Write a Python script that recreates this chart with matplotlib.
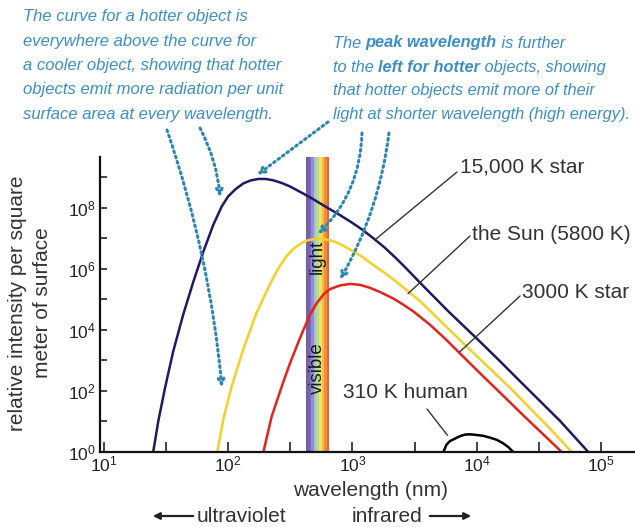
import numpy as np
import matplotlib
matplotlib.use("Agg")
import matplotlib.pyplot as plt

# wavelength (nm) and relative intensity
wl_15000 = [24.9, 27.4, 31.0, 36.1, 43.4, 52.4, 63.0, 75.9, 88.7, 100, 115, 132, 151, 174,
            200, 229, 269, 316, 403, 501, 621, 776, 957, 1189, 1472, 1820, 2275, 2818,
            3499, 5888, 10023, 14791, 22336, 32359, 46881, 79250]
i_15000 = [1, 10.5, 126, 2.0e3, 3.16e4, 3.8e5, 3.63e6, 2.82e7, 1.12e8, 2.4e8, 4.17e8,
           6.31e8, 7.94e8, 8.91e8, 8.91e8, 8.13e8, 6.61e8, 5.01e8, 2.95e8, 1.78e8, 1.05e8,
           6.17e7, 3.63e7, 2.0e7, 1.02e7, 5.0e6, 2.14e6, 8.9e5, 3.55e5, 4.17e4, 5.25e3,
           1.12e3, 209, 46.8, 10.5, 1]

wl_sun = [81.7, 91.4, 107, 132, 169, 200, 231, 261, 295, 339, 389, 447, 513, 589, 676,
          794, 1016, 1230, 1472, 1820, 2275, 2818, 3499, 5248, 7816, 12589, 19724,
          26915, 36644, 58345]
i_sun = [1, 12.0, 148, 2.29e3, 3.63e4, 1.58e5, 5.25e5, 1.26e6, 2.63e6, 4.79e6, 7.08e6,
         8.91e6, 9.77e6, 9.55e6, 8.51e6, 6.61e6, 3.8e6, 2.34e6, 1.35e6, 7.41e5, 3.72e5,
         1.82e5, 8.91e4, 1.78e4, 3.63e3, 575, 100, 26.9, 7.59, 1]

wl_3000 = [192, 224, 278, 316, 363, 403, 457, 516, 589, 661, 794, 957, 1148, 1387, 1698,
           2133, 2570, 3090, 4217, 5623, 7345, 10965, 16406, 22387, 30479, 48417]
i_3000 = [1, 14.8, 200, 851, 3.55e3, 1.0e4, 3.16e4, 7.59e4, 1.51e5, 2.19e5, 2.88e5,
          3.24e5, 3.02e5, 2.4e5, 1.7e5, 1.07e5, 6.76e4, 4.07e4, 1.48e4, 5.01e3, 1.7e3,
          339, 69.2, 20.0, 6.03, 1]

wl_human = [5395, 5741, 6109, 7345, 8072, 8710, 9397, 11324, 12823, 14521, 16406, 17989, 19724]
i_human = [1, 1.78, 2.29, 3.31, 3.72, 3.8, 3.72, 3.39, 2.95, 2.51, 1.91, 1.45, 1]

visible_band = (423, 652)
band_colors = ['#7460ad', '#7b68b5', '#9a8ad0', '#9cc4e2', '#b4de8c',
               '#f0e35a', '#f6bd4a', '#f08c3e', '#e66636']

x_ticks = [10, 100, 1000, 1e4, 1e5]
x_minor = [31.6, 316, 3162, 31623]
y_ticks = [1, 10, 1e2, 1e3, 1e4, 1e5, 1e6, 1e7, 1e8, 1e9]

plt.rcParams['font.family'] = ['Liberation Sans', 'DejaVu Sans']
plt.rcParams['mathtext.default'] = 'regular'

W, H = 635, 527
def fx(px):
    return px / W
def fy(py):
    return 1 - py / H

fig = plt.figure(figsize=(6.35, 5.27), dpi=100)
ax = fig.add_axes([fx(100), 75 / H, 535 / W, 295 / H])

# visible light band
edges = np.logspace(np.log10(visible_band[0]), np.log10(visible_band[1]), len(band_colors) + 1)
for c, a, b in zip(band_colors, edges[:-1], edges[1:]):
    ax.axvspan(a, b, color=c, lw=0, zorder=1)
band_mid = np.sqrt(visible_band[0] * visible_band[1])
ax.text(band_mid, 10**6.4, 'light', rotation=90, ha='center', va='center',
        fontsize=13.5, color='#1a1a1a', zorder=2)
ax.text(band_mid, 10**2.75, 'visible', rotation=90, ha='center', va='center',
        fontsize=13.5, color='#1a1a1a', zorder=2)

ax.plot(wl_15000, i_15000, color='#1e1a66', lw=1.8, zorder=3)
ax.plot(wl_sun, i_sun, color='#f7cf26', lw=1.8, zorder=3)
ax.plot(wl_3000, i_3000, color='#e3231c', lw=1.8, zorder=3)
ax.plot(wl_human, i_human, color='black', lw=1.8, zorder=3)

ax.set_xscale('log')
ax.set_yscale('log')
ax.set_xlim(10**0.968, 10**5.275)
ax.set_ylim(1, 10**9.67)

ax.set_xticks(x_ticks)
ax.set_xticklabels([r'$10^{%d}$' % round(np.log10(v)) for v in x_ticks])
ax.set_xticks(x_minor, minor=True)
ax.xaxis.set_minor_formatter(matplotlib.ticker.NullFormatter())
ax.set_yticks(y_ticks)
ax.set_yticklabels([r'$10^{%d}$' % round(np.log10(v)) if round(np.log10(v)) % 2 == 0 else ''
                    for v in y_ticks])
ax.yaxis.set_minor_locator(matplotlib.ticker.NullLocator())
ax.tick_params(axis='x', which='both', direction='in', length=7, width=1.2,
               labelsize=12.5, pad=2, colors='#222222')
ax.tick_params(axis='y', which='both', direction='in', length=5, width=1.2,
               labelsize=12.5, pad=3, colors='#222222')
for s in ['top', 'right']:
    ax.spines[s].set_visible(False)
for s in ['left', 'bottom']:
    ax.spines[s].set_linewidth(1.6)
    ax.spines[s].set_color('#111111')
    ax.spines[s].set_zorder(4)

txt_col = '#333333'
fig.text(fx(371), fy(490), 'wavelength (nm)', fontsize=15, color=txt_col,
         ha='center', va='center')
fig.text(fx(30), fy(303), 'relative intensity per square\nmeter of surface', fontsize=15,
         color=txt_col, rotation=90, ha='center', va='center', linespacing=1.4,
         multialignment='center')

fig.text(fx(197), fy(516), 'ultraviolet', fontsize=15, color=txt_col, va='center')
fig.text(fx(422), fy(516), 'infrared', fontsize=15, color=txt_col, va='center', ha='right')
arrow_kw = dict(arrowstyle='-|>', color='#222222', lw=1.6, mutation_scale=10)
ax.annotate('', xy=(fx(150), fy(516)), xytext=(fx(196), fy(516)),
            xycoords='figure fraction', arrowprops=arrow_kw)
ax.annotate('', xy=(fx(474), fy(516)), xytext=(fx(427), fy(516)),
            xycoords='figure fraction', arrowprops=arrow_kw)

# curve labels with leader lines
lead = dict(arrowstyle='-', color='#333333', lw=1.0, shrinkA=0, shrinkB=0)
labels = [('15,000 K star', 1514, 10**6.95, (460, 167), (457, 172)),
          ('the Sun (5800 K)', 2805, 10**5.19, (472, 234), (470, 236)),
          ('3000 K star', 7345, 10**3.29, (522, 293), (520, 296)),
          ('310 K human', 5821, 10**0.55, (343, 393), (427, 409))]
for txt, xd, yd, (px, py), (lx, ly) in labels:
    fig.text(fx(px), fy(py), txt, fontsize=15, color=txt_col, va='center', ha='left')
    ax.annotate('', xy=(xd, yd), xytext=(fx(lx), fy(ly)),
                textcoords='figure fraction', arrowprops=lead)

# blue notes
blue = '#3a8fca'
note1 = ['The curve for a hotter object is',
         'everywhere above the curve for',
         'a cooler object, showing that hotter',
         'objects emit more radiation per unit',
         'surface area at every wavelength.']
for k, line in enumerate(note1):
    fig.text(fx(23), fy(17 + 24.3 * k), line, style='italic', fontsize=12,
             color=blue, va='center', ha='left')

note2 = [[('The ', 'normal'), ('peak wavelength', 'bold'), (' is further', 'normal')],
         [('to the ', 'normal'), ('left for hotter', 'bold'), (' objects, showing', 'normal')],
         [('that hotter objects emit more of their', 'normal')],
         [('light at shorter wavelength (high energy).', 'normal')]]
rend = fig.canvas.get_renderer()
for k, parts in enumerate(note2):
    x = fx(333)
    for s, w in parts:
        t = fig.text(x, fy(43 + 24 * k), s, style='italic', fontsize=11.8, weight=w,
                     color=blue, va='center', ha='left')
        x += t.get_window_extent(renderer=rend).width / fig.bbox.width

dots = '#2a86b4'
pointers = [((167, 130), (89, 10**2.12), -0.06),
            ((200, 128), (86, 10**8.35), -0.1),
            ((328, 122), (171, 10**9.08), 0.0),
            ((362, 133), (528, 10**7.14), -0.2),
            ((389, 133), (794, 10**5.65), -0.1)]
for (px, py), tip, rad in pointers:
    ax.annotate('', xy=tip, xytext=(fx(px), fy(py)), textcoords='figure fraction',
                arrowprops=dict(arrowstyle='->', color=dots, lw=2.2, linestyle=(0, (0.6, 1.2)),
                                connectionstyle='arc3,rad=%s' % rad, shrinkA=0, shrinkB=0,
                                mutation_scale=10, capstyle='round'))

fig.savefig('out.png', dpi=100)
